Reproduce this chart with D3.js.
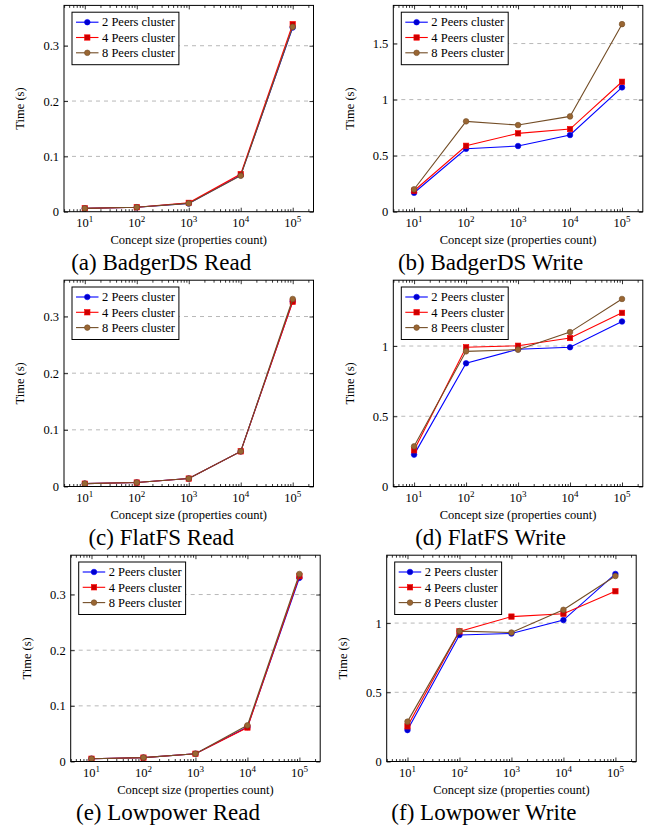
<!DOCTYPE html>
<html>
<head>
<meta charset="utf-8">
<script src="https://cdn.jsdelivr.net/npm/d3@7"></script>
<style>
  body { margin: 0; background: #fff; }
</style>
</head>
<body>
<div id="canvas"></div>
<script>
// data
const sizes = [10, 100, 1000, 10000, 100000];
const xTickExps = [1, 2, 3, 4, 5];
const seriesNames = ["2 Peers cluster", "4 Peers cluster", "8 Peers cluster"];

const badgerRead = [
  [0.006, 0.008, 0.015, 0.066, 0.333],
  [0.006, 0.008, 0.016, 0.068, 0.339],
  [0.006, 0.008, 0.015, 0.065, 0.334]
];
const badgerWrite = [
  [0.169, 0.561, 0.586, 0.684, 1.109],
  [0.187, 0.588, 0.699, 0.737, 1.159],
  [0.200, 0.806, 0.773, 0.850, 1.673]
];
const flatRead = [
  [0.005, 0.007, 0.014, 0.062, 0.327],
  [0.005, 0.007, 0.014, 0.062, 0.326],
  [0.005, 0.007, 0.014, 0.062, 0.331]
];
const flatWrite = [
  [0.227, 0.877, 0.977, 0.991, 1.175],
  [0.258, 0.991, 1.002, 1.057, 1.236],
  [0.286, 0.962, 0.974, 1.099, 1.335]
];
const lowRead = [
  [0.005, 0.007, 0.014, 0.062, 0.330],
  [0.005, 0.007, 0.014, 0.061, 0.333],
  [0.005, 0.007, 0.014, 0.065, 0.337]
];
const lowWrite = [
  [0.227, 0.914, 0.925, 1.022, 1.355],
  [0.254, 0.940, 1.047, 1.067, 1.230],
  [0.288, 0.942, 0.932, 1.096, 1.340]
];

const readTicks = [0, 0.1, 0.2, 0.3];
const badgerWriteTicks = [0, 0.5, 1, 1.5];
const writeTicks = [0, 0.5, 1];

const width = 653, height = 829;
const pw = 249.5, ph = 206.3;
const FONT = '"Liberation Serif"';

const lineColors = ["#0000ff", "#ff0000", "#734d26"];
const markFills = ["#0000cc", "#cc0000", "#996633"];
const markShapes = ["circle", "square", "circle"];

const panels = [
  { caption: "(a) BadgerDS Read", series: badgerRead, ticks: readTicks, x: 64, y: 5.4 },
  { caption: "(b) BadgerDS Write", series: badgerWrite, ticks: badgerWriteTicks, x: 393.3, y: 5.4 },
  { caption: "(c) FlatFS Read", series: flatRead, ticks: readTicks, x: 64, y: 280.2 },
  { caption: "(d) FlatFS Write", series: flatWrite, ticks: writeTicks, x: 393.3, y: 280.2 },
  { caption: "(e) Lowpower Read", series: lowRead, ticks: readTicks, x: 70.7, y: 555.2 },
  { caption: "(f) Lowpower Write", series: lowWrite, ticks: writeTicks, x: 386.7, y: 555.2 }
];

const svg = d3.select("#canvas").append("svg")
  .attr("width", width).attr("height", height);

function label(sel, size) {
  return sel.style("font-family", FONT).attr("font-size", size).attr("fill", "#000");
}

function drawMark(sel, i, cx, cy) {
  if (markShapes[i] === "square") {
    sel.append("rect")
      .attr("x", cx - 2.7).attr("y", cy - 2.7)
      .attr("width", 5.4).attr("height", 5.4)
      .attr("fill", markFills[i]).attr("stroke", lineColors[i]).attr("stroke-width", 0.6);
  } else {
    sel.append("circle")
      .attr("cx", cx).attr("cy", cy).attr("r", 2.8)
      .attr("fill", markFills[i]).attr("stroke", lineColors[i]).attr("stroke-width", 0.6);
  }
}

panels.forEach(p => {
  const g = svg.append("g").attr("transform", `translate(${p.x},${p.y})`);

  const x = d3.scaleLog().domain([Math.pow(10, 0.6), Math.pow(10, 5.4)]).range([0, pw]);
  const ymax = 1.1 * d3.max(p.series.flat());
  const y = d3.scaleLinear().domain([0, ymax]).range([ph, 0]);

  // dashed y grid
  g.append("g").selectAll("line")
    .data(p.ticks.filter(t => t > 0))
    .join("line")
    .attr("x1", 0).attr("x2", pw)
    .attr("y1", d => y(d)).attr("y2", d => y(d))
    .attr("stroke", "#b8b8b8").attr("stroke-width", 1)
    .attr("stroke-dasharray", "4,4");

  // minor log ticks
  const minor = [];
  for (let e = 0; e <= 5; e++) {
    for (let m = 2; m <= 9; m++) {
      const v = m * Math.pow(10, e);
      if (v > x.domain()[0] && v < x.domain()[1]) minor.push(v);
    }
  }
  const majorX = xTickExps.map(e => Math.pow(10, e));

  const axes = [
    g.append("g").attr("transform", `translate(0,${ph})`).call(d3.axisBottom(x).tickValues(minor).tickSize(-2.5).tickFormat("")),
    g.append("g").attr("transform", `translate(0,${ph})`).call(d3.axisBottom(x).tickValues(majorX).tickSize(-4).tickFormat("")),
    g.append("g").call(d3.axisTop(x).tickValues(minor).tickSize(-2.5).tickFormat("")),
    g.append("g").call(d3.axisTop(x).tickValues(majorX).tickSize(-4).tickFormat("")),
    g.append("g").call(d3.axisLeft(y).tickValues(p.ticks).tickSize(-4).tickPadding(5)
      .tickFormat(d => d === 0 ? "0" : String(d))),
    g.append("g").attr("transform", `translate(${pw},0)`).call(d3.axisRight(y).tickValues(p.ticks).tickSize(-4).tickFormat(""))
  ];
  axes.forEach(a => {
    a.select(".domain").remove();
    a.selectAll(".tick line").attr("stroke", "#000").attr("stroke-width", 0.8);
    label(a.selectAll(".tick text"), 12.5);
  });

  // x tick labels 10^k
  const xl = label(g.append("g").selectAll("text")
    .data(xTickExps)
    .join("text")
    .attr("x", d => x(Math.pow(10, d)))
    .attr("y", ph + 15.5)
    .attr("text-anchor", "middle"), 12.5);
  xl.append("tspan").text("10");
  xl.append("tspan").attr("dy", -5).attr("font-size", 9).text(d => d);

  // series lines + marks
  const line = d3.line().x(d => x(d[0])).y(d => y(d[1]));
  p.series.forEach((vals, i) => {
    const pts = sizes.map((s, k) => [s, vals[k]]);
    g.append("path").datum(pts)
      .attr("d", line)
      .attr("fill", "none")
      .attr("stroke", lineColors[i])
      .attr("stroke-width", 1.1);
    const mg = g.append("g");
    pts.forEach(pt => drawMark(mg, i, x(pt[0]), y(pt[1])));
  });

  // frame
  g.append("rect").attr("width", pw).attr("height", ph)
    .attr("fill", "none").attr("stroke", "#000").attr("stroke-width", 1);

  // legend
  const lg = g.append("g").attr("transform", "translate(8,6.8)");
  const box = lg.append("rect").attr("height", 52.5)
    .attr("fill", "#fff").attr("stroke", "#000").attr("stroke-width", 1);
  let maxW = 0;
  seriesNames.forEach((name, i) => {
    const ry = 10 + i * 15.3;
    lg.append("line").attr("x1", 4).attr("x2", 26.5).attr("y1", ry).attr("y2", ry)
      .attr("stroke", lineColors[i]).attr("stroke-width", 1.1);
    drawMark(lg, i, 15.3, ry);
    const t = label(lg.append("text").attr("x", 30).attr("y", ry + 4.3), 12.5).text(name);
    maxW = Math.max(maxW, t.node().getComputedTextLength());
  });
  box.attr("width", 30 + maxW + 4);

  // axis titles
  label(g.append("text")
    .attr("transform", `translate(-44,${ph / 2}) rotate(-90)`)
    .attr("dy", "0.35em")
    .attr("text-anchor", "middle"), 12.5)
    .text("Time (s)");
  label(g.append("text")
    .attr("x", pw / 2).attr("y", ph + 32.5)
    .attr("text-anchor", "middle"), 12.5)
    .text("Concept size (properties count)");

  // caption
  label(g.append("text")
    .attr("x", pw / 2 - 27.5).attr("y", ph + 58.5)
    .attr("text-anchor", "middle"), 23)
    .text(p.caption);
});
</script>
</body>
</html>
